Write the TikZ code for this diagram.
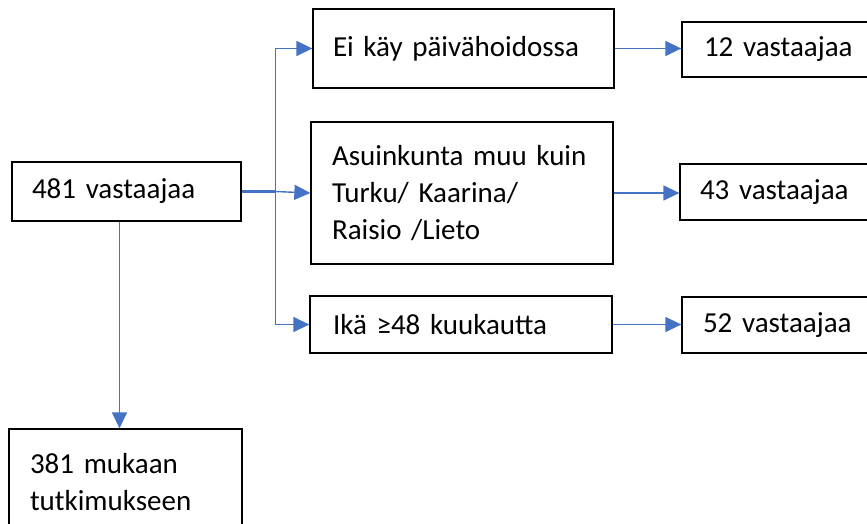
\documentclass[tikz,border=0pt]{standalone}
\usepackage{fontspec}
\setmainfont{Carlito}
\usetikzlibrary{arrows.meta,positioning,calc}
\definecolor{viiva}{HTML}{4472C4}
\begin{document}
\begin{tikzpicture}[x=1pt, y=-1pt,
	laatikko/.style={draw, line width=1.3pt, inner xsep=20pt, inner ysep=0pt, align=left, font=\fontsize{29}{37}\selectfont},
	nuoli/.style={draw=viiva, line width=1.4pt, -{Triangle[length=16pt,width=15pt]}, color=viiva}]
	\useasboundingbox (0,0) rectangle (867,524);
	\node [laatikko, text width=189pt, minimum height=59pt] (vast481) at (126.5,191.5) {481 vastaajaa};
	\node [laatikko, text width=261pt, minimum height=79pt] (paiva) at (463.5,48.5) {Ei käy päivähoidossa};
	\node [laatikko, inner xsep=21pt, text width=260pt, minimum height=142pt] (asuin) at (462,193) {Asuinkunta muu kuin\\Turku/ Kaarina/\\Raisio /Lieto};
	\node [laatikko, inner xsep=23pt, text width=256pt, minimum height=57pt] (ika) at (461,324.5) {Ikä ≥48 kuukautta};
	\node [laatikko, inner xsep=22pt, text width=160pt, minimum height=55pt] (v12) at (784,49.5) {12 vastaajaa};
	\node [laatikko, text width=160pt, minimum height=56pt] (v43) at (780,192) {43 vastaajaa};
	\node [laatikko, inner xsep=21pt, text width=160pt, minimum height=56pt] (v52) at (783,325) {52 vastaajaa};
	\node [laatikko, inner xsep=21pt, text width=191pt, minimum height=106pt] (mukaan) at (125.5,482) {381 mukaan\\tutkimukseen};
	\coordinate (haara) at (275.5,191.5);
	\draw [viiva, line width=2.8pt] (vast481.east) -- (haara);
	\draw [nuoli] (haara) -- (haara |- paiva.west) -- (paiva.west);
	\draw [nuoli] (haara) -- (asuin.west);
	\draw [nuoli] (haara) -- (haara |- ika.west) -- (ika.west);
	\draw [nuoli] (paiva.east) -- (v12.west |- paiva.east);
	\draw [nuoli] (asuin.east) -- (v43.west |- asuin.east);
	\draw [nuoli] (ika.east) -- (v52.west |- ika.east);
	\draw [nuoli] ([xshift=-7pt]vast481.south) -- ([xshift=-6pt]mukaan.north);
\end{tikzpicture}
\end{document}
